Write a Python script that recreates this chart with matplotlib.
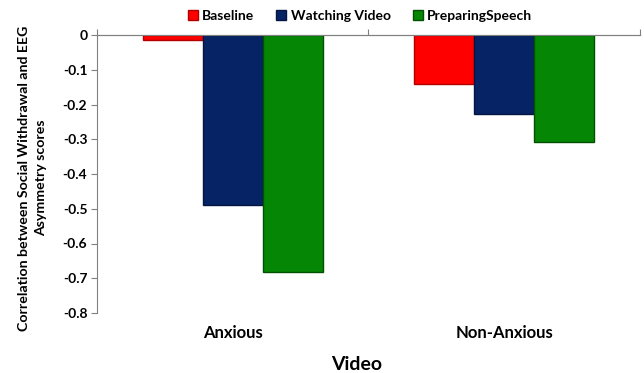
import matplotlib
matplotlib.use("Agg")
import matplotlib.pyplot as plt
import numpy as np

categories = ["Anxious", "Non-Anxious"]
series_names = ["Baseline", "Watching Video", "PreparingSpeech"]
baseline = [-0.015, -0.141]
watching = [-0.489, -0.228]
preparing = [-0.681, -0.307]
y_ticks = [0, -0.1, -0.2, -0.3, -0.4, -0.5, -0.6, -0.7, -0.8]
y_tick_labels = ["0", "-0.1", "-0.2", "-0.3", "-0.4", "-0.5", "-0.6", "-0.7", "-0.8"]

colors = ["#FF0000", "#062365", "#058705"]
edges = ["#B00000", "#031540", "#034F03"]

plt.rcParams['font.family'] = ['Lato', 'DejaVu Sans']

fig = plt.figure(figsize=(6.44, 3.73), dpi=100)
ax = fig.add_axes([97/644, 1-313/373, (640-97)/644, (313-35)/373])

x = np.arange(len(categories))
w = 0.221
for i, (vals, name) in enumerate(zip([baseline, watching, preparing], series_names)):
    ax.bar(x + (i-1)*w, vals, width=w, color=colors[i], edgecolor=edges[i],
           linewidth=1.0, label=name, zorder=2)

ax.set_xlim(-0.5, 1.5)
ax.set_ylim(-0.8, 0)
ax.set_yticks(y_ticks)
ax.set_yticklabels(y_tick_labels, fontsize=10, fontweight='bold')
ax.tick_params(axis='y', direction='out', length=4, color='#808080', pad=3)

ax.set_xticks(x)
ax.set_xticklabels(categories, fontsize=12, fontweight='bold')
ax.tick_params(axis='x', length=0, pad=9)

for s in ['right', 'bottom']:
    ax.spines[s].set_visible(False)
ax.spines['left'].set_color('#808080')
ax.spines['top'].set_color('#808080')

sec = ax.secondary_xaxis('top')
sec.set_xticks([-0.5, 0.5, 1.5])
sec.set_xticklabels([])
sec.tick_params(axis='x', direction='out', length=4, color='#808080')
sec.spines['top'].set_color('#808080')

ax.set_xlabel("Video", fontsize=14, fontweight='bold')
ax.xaxis.set_label_coords(0.479, -0.155)
ax.set_ylabel("Correlation between Social Withdrawal and EEG\nAsymmetry scores",
              fontsize=10.2, fontweight='bold', linespacing=1.55)
ax.yaxis.set_label_coords(-0.092, 0.486)

leg = fig.legend(*ax.get_legend_handles_labels(), loc='center',
                 bbox_to_anchor=(360/644, 1-16/373), ncol=3, frameon=False,
                 handlelength=0.72, handleheight=0.72, handletextpad=0.3,
                 columnspacing=1.6, borderpad=0, prop={'weight': 'bold', 'size': 10})

fig.savefig("out.png", dpi=100)
